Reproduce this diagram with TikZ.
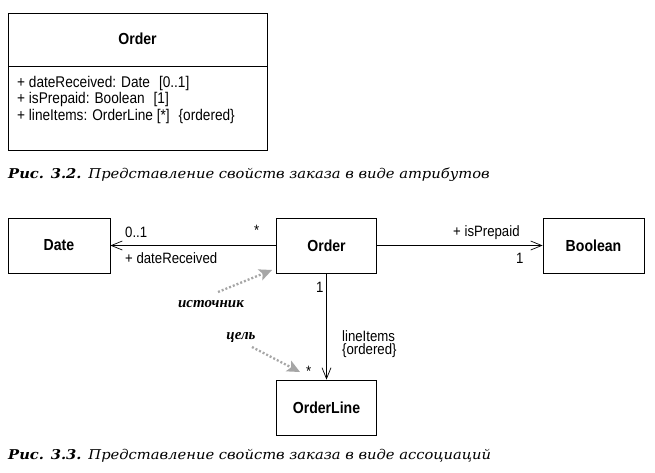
\documentclass[tikz,border=0pt]{standalone}
\usepackage{fontspec}
\setmainfont{DejaVu Serif}
\setsansfont[FakeStretch=0.88]{Liberation Sans}
\newfontfamily\capfont[FakeStretch=1.09]{DejaVu Serif}
\newfontfamily\notefont{Liberation Serif}
\usetikzlibrary{arrows.meta}
\begin{document}
\begin{tikzpicture}[x=1pt,y=-1pt,
  box/.style={draw,line width=0.8pt,inner sep=0pt,minimum height=55pt,font=\sffamily\bfseries\fontsize{16}{18}\selectfont},
  txt/.style={inner sep=0pt,anchor=base west,font=\sffamily\fontsize{15}{17}\selectfont},
  attr/.style={txt,font=\sffamily\fontsize{15.5}{17}\selectfont},
  title/.style={inner sep=0pt,anchor=base,font=\sffamily\bfseries\fontsize{16}{18}\selectfont},
  capt/.style={inner sep=0pt,anchor=base west,font=\capfont\itshape\fontsize{13.5}{15}\selectfont},
  assoc/.style={line width=0.7pt,-{Straight Barb[length=11pt,width=9pt,line width=0.7pt]}},
  note/.style={draw=black!35,line width=2.3pt,dash pattern=on 2pt off 2pt,-{Stealth[length=13pt,width=12pt,inset=3pt,fill=black!35,line width=0pt]}},
  notelbl/.style={inner sep=0pt,font=\notefont\bfseries\itshape\fontsize{15}{17}\selectfont}]
\fill[white] (0,0) rectangle (655,472);
\useasboundingbox (0,0) rectangle (655,472);
% top class
\node[draw,line width=0.8pt,minimum width=259pt,minimum height=137pt,inner sep=0pt] (cls) at (137.5,81.5) {};
\node[title] (clsname) at (137.5,44.3) {Order};
\coordinate (divL) at (8,66);
\coordinate (divR) at (267,66);
\draw[line width=0.8pt] (divL) -- (divR);
\node[attr] (a1) at (17,87) {+ dateReceived: Date\hspace{9pt}[0..1]};
\node[attr] (a2) at (17,103.5) {+ isPrepaid: Boolean\hspace{9pt}[1]};
\node[attr] (a3) at (17,120.5) {+ lineItems: OrderLine [*]\hspace{9pt}\{ordered\}};
\node[capt] (cap1) at (8,178) {\bfseries Рис. 3.2. \mdseries Представление свойств заказа в виде атрибутов};
% lower diagram
\node[box,minimum width=102pt] (date) at (59,245.5) {Date};
\node[box,minimum width=100pt] (order) at (326.5,245.5) {Order};
\node[box,minimum width=101pt] (bool) at (593.5,245.5) {Boolean};
\node[box,minimum width=100pt] (ol) at (326.5,407.5) {OrderLine};
\draw[assoc] (order) -- (date);
\draw[assoc] (order) -- (bool);
\draw[assoc] (order) -- (ol);
\node[txt] (m01) at (125,237) {0..1};
\node[txt] (ms1) at (254,235) {*};
\node[txt] (rdate) at (125,263) {+ dateReceived};
\node[txt] (rprep) at (453,236) {+ isPrepaid};
\node[txt] (m1b) at (516,263) {1};
\node[txt] (m1o) at (316,292) {1};
\node[txt,align=left,font=\sffamily\fontsize{15}{13.5}\selectfont] (rli) at (342,354.5) {lineItems\\\{ordered\}};
\node[txt] (ms2) at (306,376) {*};
% notes
\coordinate (s1) at (218,292);
\coordinate (s2) at (272,270);
\draw[note] (s1) -- (s2);
\node[notelbl] (srcl) at (211,304) {источник};
\coordinate (t1) at (252,347);
\coordinate (t2) at (300,372);
\draw[note] (t1) -- (t2);
\node[notelbl] (tgtl) at (241,337) {цель};
\node[capt] (cap2) at (8,459) {\bfseries Рис. 3.3. \mdseries Представление свойств заказа в виде ассоциаций};
\end{tikzpicture}
\end{document}
